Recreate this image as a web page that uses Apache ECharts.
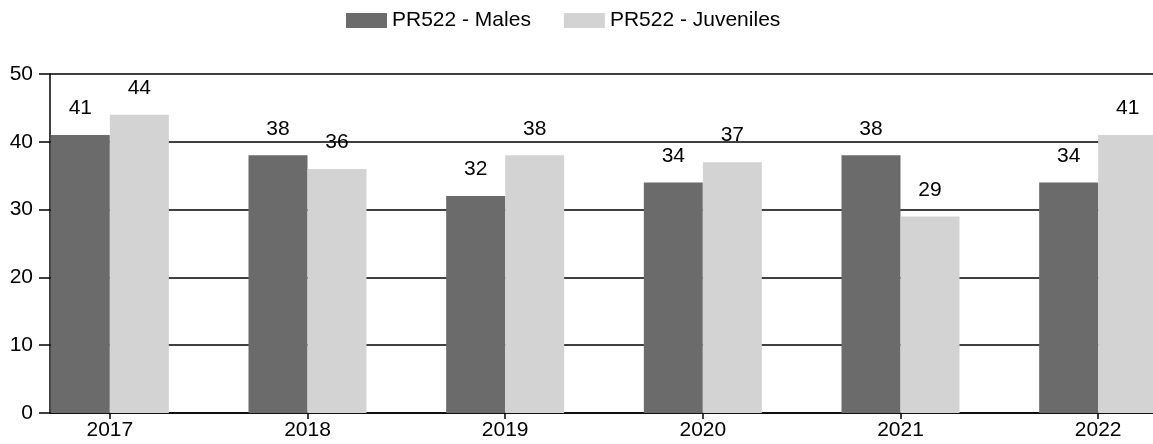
<!DOCTYPE html>
<html>
<head>
<meta charset="UTF-8">
<title>PR522</title>
<script type="text/javascript" src="https://cdn.jsdelivr.net/npm/echarts@6/dist/echarts.min.js"></script>
<style>
  body{margin:0;background:#fff}
</style>
</head>
<body>
<div id="main" style="width:1153px;height:444px"></div>
<script type="text/javascript">
	var years = ['2017', '2018', '2019', '2020', '2021', '2022'];
	var males = [41, 38, 32, 34, 38, 34];
	var juveniles = [44, 36, 38, 37, 29, 41];
	var yTicks = [0, 10, 20, 30, 40, 50];

	var myEcharts = echarts.init(document.getElementById('main'));
	var font = 'Liberation Sans, Arial, sans-serif';

	var valueLabel = {
		show: true,
		position: 'top',
		distance: 16,
		color: '#000',
		fontSize: 21,
		fontFamily: font
	};

	var option = {
		animation: false,
		textStyle: { fontFamily: font },
		legend: {
			top: 5,
			left: 341,
			itemWidth: 41,
			itemHeight: 15,
			itemGap: 33,
			icon: 'rect',
			textStyle: { fontSize: 21, color: '#000', fontFamily: font },
			data: ['PR522 - Males', 'PR522 - Juveniles']
		},
		// grid 0: visible frame (y axis, gridlines, base line) starts at the y axis
		// grid 1: the category band, wider than the window (chart was cropped)
		grid: [
			{ left: 50, right: -10, top: 74, bottom: 31, outerBoundsMode: 'none' },
			{ left: 11, right: -44, top: 74, bottom: 31, outerBoundsMode: 'none' }
		],
		xAxis: [{
			gridIndex: 0,
			type: 'category',
			data: years,
			axisLine: { show: true, lineStyle: { color: '#000', width: 1.5 } },
			axisTick: { show: false },
			axisLabel: { show: false }
		}, {
			gridIndex: 1,
			type: 'category',
			data: years,
			axisLine: { show: false },
			axisTick: { show: true, alignWithLabel: true, length: 6, lineStyle: { color: '#000', width: 1.5 } },
			axisLabel: { color: '#000', fontSize: 21, margin: 7, fontFamily: font }
		}],
		yAxis: [{
			gridIndex: 0,
			type: 'value',
			min: yTicks[0],
			max: yTicks[yTicks.length - 1],
			interval: 10,
			axisLine: { show: true, lineStyle: { color: '#000', width: 1.5 } },
			axisTick: { show: true, length: 11, lineStyle: { color: '#000', width: 1.5 } },
			axisLabel: { color: '#000', fontSize: 21, margin: 17, fontFamily: font },
			splitLine: { show: true, lineStyle: { color: '#000', width: 1.5 } }
		}, {
			gridIndex: 1,
			type: 'value',
			min: yTicks[0],
			max: yTicks[yTicks.length - 1],
			interval: 10,
			show: false
		}],
		series: [{
			name: 'PR522 - Males',
			type: 'bar',
			xAxisIndex: 1,
			yAxisIndex: 1,
			data: males,
			barWidth: 59,
			barGap: '0%',
			itemStyle: { color: '#6b6b6b' },
			label: valueLabel
		}, {
			name: 'PR522 - Juveniles',
			type: 'bar',
			xAxisIndex: 1,
			yAxisIndex: 1,
			data: juveniles,
			barWidth: 59,
			barGap: '0%',
			itemStyle: { color: '#d3d3d3' },
			label: valueLabel
		}]
	};
	myEcharts.setOption(option);
</script>
</body>
</html>
